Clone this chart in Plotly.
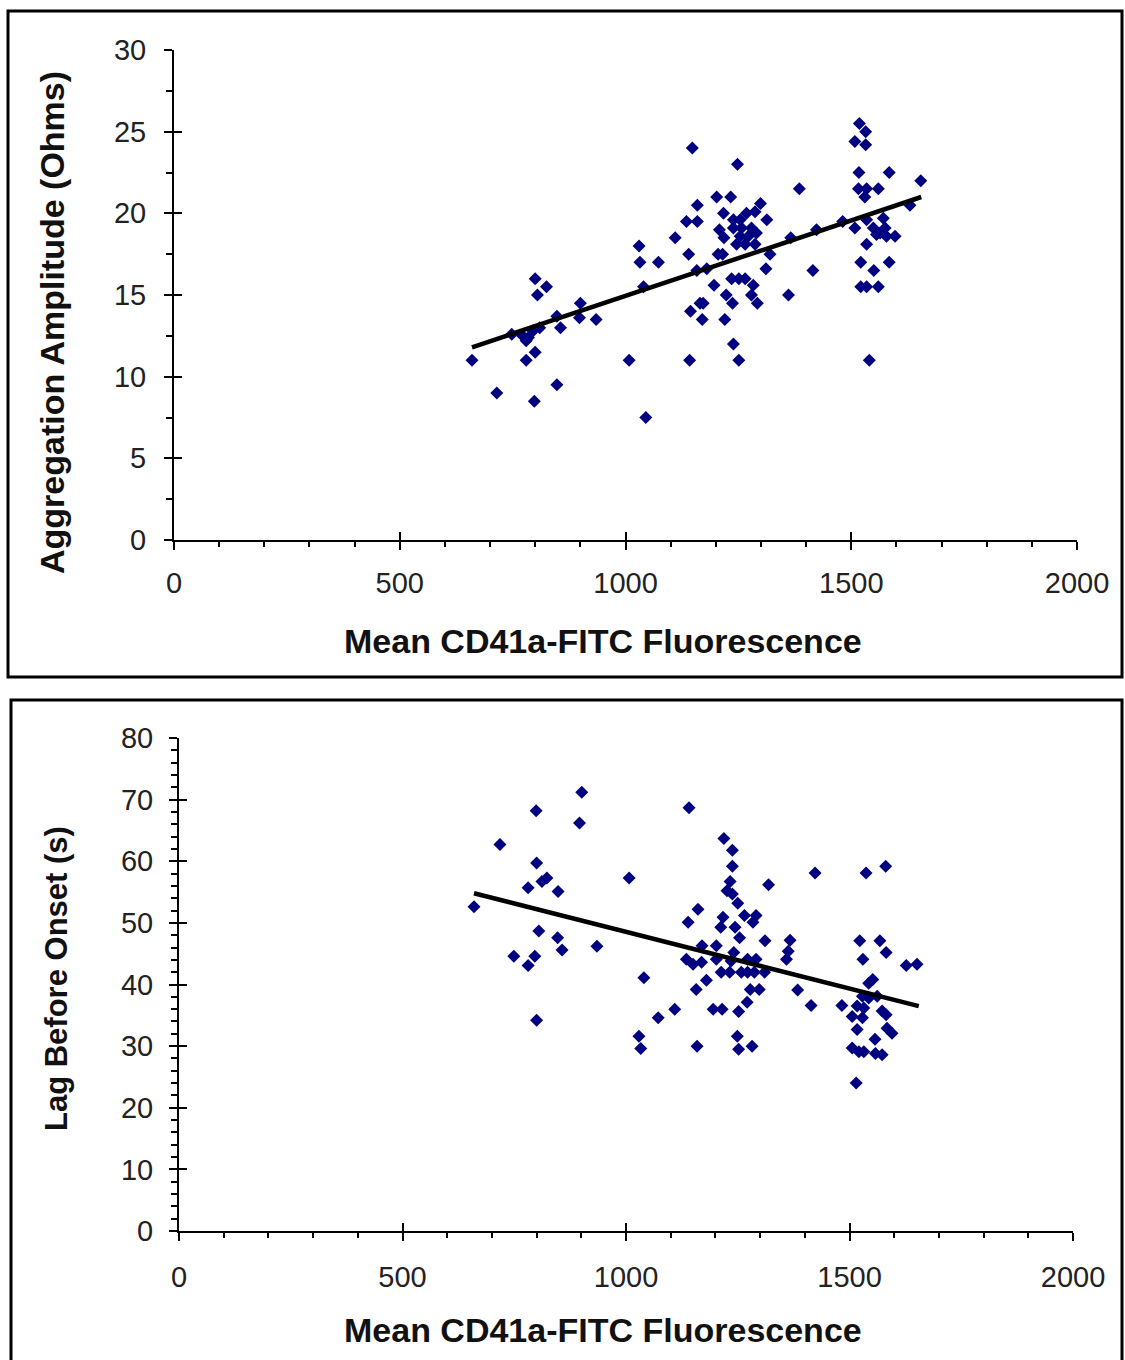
import plotly.graph_objects as go

W, H = 1125, 1360

# ---------------- data ----------------
amp_x = [660, 715, 798, 848, 780, 800, 800, 825, 805, 748, 772, 785, 795, 780, 810, 848, 856, 900, 898, 935,
         1008, 1045, 1030, 1032, 1073, 1040, 1110, 1148, 1140, 1135, 1159, 1159, 1142, 1158, 1144, 1170, 1172,
         1165, 1180, 1196, 1202, 1233, 1248, 1217, 1208, 1218, 1205, 1215, 1223, 1220, 1237, 1239, 1251, 1235,
         1251, 1265, 1283, 1279, 1292, 1239, 1254, 1268, 1287, 1299, 1313, 1239, 1257, 1279, 1290, 1254, 1272,
         1246, 1265, 1287, 1320, 1311, 1385, 1361, 1415, 1366, 1423, 1481, 1518, 1532, 1508, 1532, 1517, 1584,
         1654, 1516, 1534, 1560, 1530, 1508, 1534, 1571, 1549, 1564, 1578, 1597, 1556, 1575, 1534, 1630, 1521,
         1584, 1550, 1521, 1534, 1560, 1540]
amp_y = [11.0, 9.0, 8.5, 9.5, 11.0, 11.5, 16.0, 15.5, 15.0, 12.6, 12.5, 12.4, 12.8, 12.2, 13.0, 13.7, 13.0, 14.5, 13.6, 13.5,
         11.0, 7.5, 18.0, 17.0, 17.0, 15.5, 18.5, 24.0, 17.5, 19.5, 19.5, 20.5, 11.0, 16.5, 14.0, 13.5, 14.5,
         14.5, 16.6, 15.6, 21.0, 21.0, 23.0, 20.0, 19.0, 18.5, 17.5, 17.5, 15.0, 13.5, 14.5, 12.0, 11.0, 16.0,
         16.0, 16.0, 15.6, 15.0, 14.5, 19.6, 19.6, 20.0, 20.1, 20.6, 19.6, 19.1, 19.1, 19.1, 18.8, 18.6, 18.6,
         18.1, 18.1, 18.1, 17.5, 16.6, 21.5, 15.0, 16.5, 18.5, 19.0, 19.5, 25.5, 25.0, 24.4, 24.2, 22.5, 22.5,
         22.0, 21.5, 21.5, 21.5, 21.0, 19.1, 19.6, 19.7, 19.1, 18.8, 18.6, 18.6, 18.7, 19.1, 18.1, 20.5, 17.0,
         17.0, 16.5, 15.5, 15.5, 15.5, 11.0]
amp_trend_x = [660, 1655]
amp_trend_y = [11.8, 21.0]

lag_x = [660, 718, 799, 901, 896, 800, 823, 812, 781, 848, 805, 847, 857, 935, 749, 796, 781, 800,
         1007, 1040, 1072, 1109, 1029, 1033, 1141, 1159, 1161, 1139, 1219, 1238, 1238, 1233, 1226, 1238,
         1250, 1217, 1212, 1244, 1265, 1291, 1284, 1254, 1311, 1170, 1202, 1135, 1150, 1169, 1202, 1241,
         1235, 1272, 1291, 1213, 1232, 1258, 1272, 1287, 1310, 1180, 1157, 1278, 1298, 1271, 1195, 1215,
         1252, 1249, 1252, 1282, 1319, 1423, 1537, 1581, 1367, 1363, 1359, 1384, 1414, 1483, 1523, 1568,
         1582, 1530, 1627, 1651, 1543, 1552, 1529, 1543, 1562, 1517, 1532, 1506, 1529, 1573, 1582, 1517,
         1584, 1595, 1557, 1506, 1521, 1532, 1558, 1573, 1515]
lag_y = [52.6, 62.7, 68.2, 71.2, 66.2, 59.7, 57.3, 56.7, 55.7, 55.1, 48.7, 47.6, 45.6, 46.2, 44.6, 44.6, 43.1, 34.2,
         57.3, 41.1, 34.6, 36.0, 31.6, 29.6, 68.7, 30.0, 52.2, 50.1, 63.7, 61.8, 59.2, 56.7, 55.2, 54.7,
         53.2, 50.9, 49.3, 49.3, 51.2, 51.2, 50.1, 47.6, 47.1, 46.3, 46.3, 44.1, 43.3, 43.6, 44.1, 45.2,
         43.8, 44.1, 44.1, 42.0, 42.0, 42.0, 42.0, 42.0, 42.0, 40.7, 39.2, 39.2, 39.2, 37.1, 36.0, 36.0,
         35.6, 31.6, 29.5, 30.0, 56.2, 58.1, 58.1, 59.2, 47.2, 45.4, 44.1, 39.1, 36.6, 36.6, 47.1, 47.1,
         45.2, 44.1, 43.1, 43.3, 40.2, 40.8, 38.1, 37.8, 38.1, 36.5, 36.2, 34.8, 34.6, 35.7, 35.1, 32.7,
         32.9, 32.1, 31.1, 29.7, 29.1, 29.1, 28.8, 28.6, 24.0]
lag_trend_x = [660, 1655]
lag_trend_y = [54.8, 36.5]

x_label = "Mean CD41a-FITC Fluorescence"
amp_label = "Aggregation Amplitude (Ohms)"
lag_label = "Lag Before Onset (s)"

# ---------------- style ----------------
NAVY = "#000080"
FAMILY = "Liberation Sans, Arial, sans-serif"
TICKFONT = dict(family=FAMILY, size=29, color="#222")
TITLEFONT = dict(family=FAMILY, size=34, color="#111")
LAGTITLEFONT = dict(family=FAMILY, size=31, color="#111")


def px_x(p):
    return p / W


def px_y(p):
    return 1 - p / H


top_xd = [px_x(174), px_x(1077)]
top_yd = [px_y(540), px_y(50)]
bot_xd = [px_x(179), px_x(1073)]
bot_yd = [px_y(1231), px_y(738)]

fig = go.Figure()

marker = dict(symbol="diamond", size=10, color=NAVY, line=dict(width=0))

fig.add_trace(go.Scatter(x=amp_x, y=amp_y, mode="markers", marker=marker,
                         xaxis="x", yaxis="y", showlegend=False))
fig.add_trace(go.Scatter(x=amp_trend_x, y=amp_trend_y, mode="lines",
                         line=dict(color="black", width=4.5), xaxis="x", yaxis="y", showlegend=False))
fig.add_trace(go.Scatter(x=lag_x, y=lag_y, mode="markers", marker=marker,
                         xaxis="x2", yaxis="y2", showlegend=False))
fig.add_trace(go.Scatter(x=lag_trend_x, y=lag_trend_y, mode="lines",
                         line=dict(color="black", width=4.5), xaxis="x2", yaxis="y2", showlegend=False))
# dummy traces for overlay axes (inside half of the crossing major ticks)
fig.add_trace(go.Scatter(x=[None], y=[None], xaxis="x3", yaxis="y3", showlegend=False, hoverinfo="skip"))
fig.add_trace(go.Scatter(x=[None], y=[None], xaxis="x4", yaxis="y4", showlegend=False, hoverinfo="skip"))

common = dict(showgrid=False, zeroline=False, showline=True, linecolor="black", linewidth=2,
              ticks="outside", ticklen=8, tickwidth=2, tickcolor="black", tickfont=TICKFONT,
              automargin=False)
inside = dict(ticks="inside", ticklen=8, tickwidth=2, tickcolor="black", showticklabels=False,
              showgrid=False, zeroline=False, showline=False, automargin=False)

fig.update_layout(
    template="none",
    width=W, height=H, margin=dict(l=0, r=0, t=0, b=0, pad=0),
    paper_bgcolor="white", plot_bgcolor="white", showlegend=False,
    xaxis=dict(domain=top_xd, anchor="y", range=[0, 2000], tick0=0, dtick=500,
               minor=dict(ticks="outside", dtick=100, ticklen=5, tickwidth=2, tickcolor="black"),
               ticklabelstandoff=8, **common),
    yaxis=dict(domain=top_yd, anchor="x", range=[0, 30], tick0=0, dtick=5,
               minor=dict(ticks="outside", dtick=2.5, ticklen=6, tickwidth=2, tickcolor="black"),
               ticklabelstandoff=12, **common),
    xaxis2=dict(domain=bot_xd, anchor="y2", range=[0, 2000], tick0=0, dtick=500,
                minor=dict(ticks="outside", dtick=100, ticklen=5, tickwidth=2, tickcolor="black"),
                ticklabelstandoff=11, **common),
    yaxis2=dict(domain=bot_yd, anchor="x2", range=[0, 80], tick0=0, dtick=10,
                minor=dict(ticks="outside", dtick=2, ticklen=6, tickwidth=2, tickcolor="black"),
                ticklabelstandoff=10, **common),
    xaxis3=dict(overlaying="x", anchor="y3", range=[0, 2000], tick0=0, dtick=500, **inside),
    yaxis3=dict(overlaying="y", anchor="x3", range=[0, 30], tick0=0, dtick=5, **inside),
    xaxis4=dict(overlaying="x2", anchor="y4", range=[0, 2000], tick0=0, dtick=500, **inside),
    yaxis4=dict(overlaying="y2", anchor="x4", range=[0, 80], tick0=0, dtick=10, **inside),
)

# frames around the two panels
fig.add_shape(type="rect", xref="paper", yref="paper", x0=px_x(8), x1=px_x(1122), y0=px_y(677), y1=px_y(11),
              line=dict(color="black", width=3), fillcolor="rgba(0,0,0,0)", layer="below")
fig.add_shape(type="rect", xref="paper", yref="paper", x0=px_x(11), x1=px_x(1122), y0=px_y(1365), y1=px_y(700),
              line=dict(color="black", width=3), fillcolor="rgba(0,0,0,0)", layer="below")

# axis titles
ann = dict(xref="paper", yref="paper", showarrow=False)
fig.add_annotation(text=f"<b>{x_label}</b>", x=px_x(603), y=px_y(641), xanchor="center", yanchor="middle",
                   font=TITLEFONT, **ann)
fig.add_annotation(text=f"<b>{amp_label}</b>", x=px_x(52), y=px_y(323), textangle=-90,
                   xanchor="center", yanchor="middle", font=TITLEFONT, **ann)
fig.add_annotation(text=f"<b>{x_label}</b>", x=px_x(603), y=px_y(1330), xanchor="center", yanchor="middle",
                   font=TITLEFONT, **ann)
fig.add_annotation(text=f"<b>{lag_label}</b>", x=px_x(56), y=px_y(979), textangle=-90,
                   xanchor="center", yanchor="middle", font=LAGTITLEFONT, **ann)

fig.write_html("out.html")
